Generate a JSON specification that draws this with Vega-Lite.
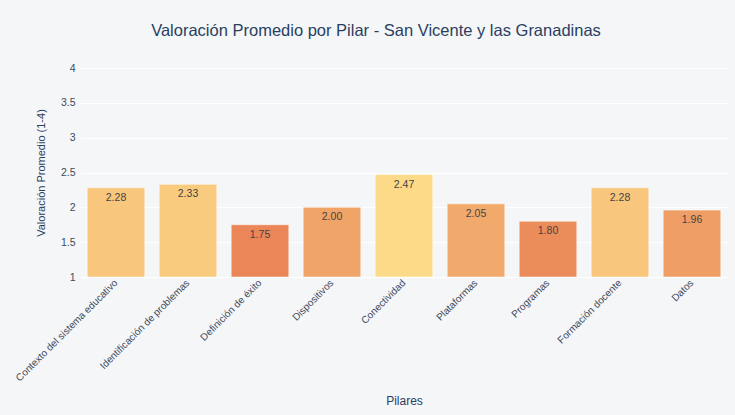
{
  "$schema": "https://vega.github.io/schema/vega-lite/v6.json",
  "autosize": {"type": "none"},
  "width": 648,
  "height": 209,
  "padding": {"left": 80, "top": 68, "right": 7, "bottom": 138},
  "background": "#f5f6f8",
  "config": {
    "font": "Liberation Sans",
    "view": {"stroke": null, "fill": "#f5f6f8"},
    "axis": {"labelOverlap": false}
  },
  "title": {
    "text": "Valoración Promedio por Pilar - San Vicente y las Granadinas",
    "fontSize": 16.5,
    "fontWeight": "normal",
    "color": "#2a3f5f",
    "anchor": "middle",
    "frame": "group",
    "dx": -28,
    "offset": 24
  },
  "data": {
    "values": [
      {"pilar": "Contexto del sistema educativo", "valor": 2.28},
      {"pilar": "Identificación de problemas", "valor": 2.33},
      {"pilar": "Definición de éxito", "valor": 1.75},
      {"pilar": "Dispositivos", "valor": 2.00},
      {"pilar": "Conectividad", "valor": 2.47},
      {"pilar": "Plataformas", "valor": 2.05},
      {"pilar": "Programas", "valor": 1.80},
      {"pilar": "Formación docente", "valor": 2.28},
      {"pilar": "Datos", "valor": 1.96}
    ]
  },
  "encoding": {
    "x": {
      "field": "pilar",
      "type": "nominal",
      "sort": null,
      "scale": {"paddingInner": 0.2, "paddingOuter": 0.1},
      "axis": {
        "title": "Pilares",
        "titleFontSize": 12,
        "titleFontWeight": "normal",
        "titleColor": "#2a3f5f",
        "titlePadding": 13,
        "labelAngle": -45,
        "labelAlign": "right",
        "labelBaseline": "middle",
        "labelFontSize": 10,
        "labelColor": "#3d4a5c",
        "labelPadding": 4,
        "ticks": false,
        "domain": false,
        "labelLimit": 300
      }
    },
    "y": {
      "field": "valor",
      "type": "quantitative",
      "scale": {"domain": [1, 4], "nice": false, "zero": false},
      "axis": {
        "title": "Valoración Promedio (1-4)",
        "titleFontSize": 11,
        "titleFontWeight": "normal",
        "titleColor": "#2a3f5f",
        "titlePadding": 14,
        "values": [1, 1.5, 2, 2.5, 3, 3.5, 4],
        "labelExpr": "format(datum.value, '~g')",
        "labelOverlap": false,
        "labelFontSize": 10.5,
        "labelColor": "#3d4a5c",
        "labelPadding": 5,
        "ticks": false,
        "domain": false,
        "gridColor": "#ffffff",
        "gridWidth": 1
      }
    }
  },
  "layer": [
    {
      "mark": {"type": "bar", "stroke": "#ffffff", "strokeWidth": 1, "strokeOpacity": 0.5},
      "encoding": {
        "y2": {"datum": 1},
        "color": {
          "field": "valor",
          "type": "quantitative",
          "scale": {
            "domain": [1.75, 2.0, 2.28, 2.47],
            "range": ["#ea8658", "#f0a467", "#f8c67c", "#fcda88"],
            "interpolate": "rgb"
          },
          "legend": null
        }
      }
    },
    {
      "mark": {"type": "text", "baseline": "top", "dy": 5, "fontSize": 10.5, "color": "#444444"},
      "encoding": {
        "text": {"field": "valor", "type": "quantitative", "format": ".2f"}
      }
    }
  ]
}
